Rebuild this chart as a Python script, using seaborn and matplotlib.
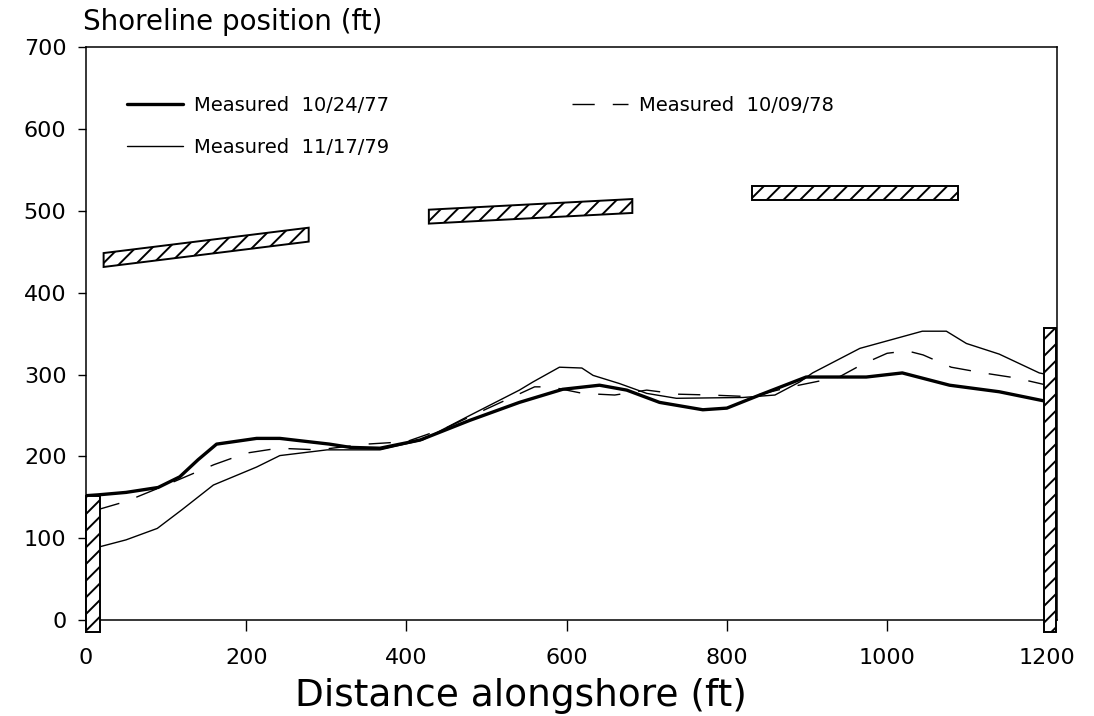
import numpy as np
import pandas as pd
import matplotlib
matplotlib.use("Agg")
import matplotlib.pyplot as plt
from matplotlib.patches import Polygon, Rectangle
import seaborn as sns

# Shoreline surveys (distance alongshore ft, shoreline position ft)
x_77 = [0, 15, 50, 90, 117, 140, 163, 213, 242, 304, 330, 367, 417, 479, 541, 595,
        641, 675, 716, 770, 800, 841, 899, 919, 974, 1019, 1078, 1140, 1200]
y_77 = [152, 153, 156, 162, 175, 196, 215, 222, 222, 215, 211, 210, 220, 244, 266, 282,
        287, 281, 266, 257, 259, 275, 297, 297, 297, 302, 287, 279, 267]

x_78 = [15, 50, 100, 160, 200, 240, 290, 350, 400, 450, 500, 560, 580, 620, 660, 700,
        740, 780, 830, 880, 940, 970, 1000, 1025, 1045, 1080, 1120, 1160, 1200]
y_78 = [135, 145, 165, 190, 204, 210, 208, 215, 218, 235, 258, 285, 285, 277, 275, 281,
        276, 275, 273, 285, 297, 313, 326, 329, 324, 309, 302, 296, 287]

x_79 = [15, 50, 89, 120, 159, 213, 242, 301, 367, 420, 479, 541, 558, 591, 619, 633,
        666, 700, 737, 820, 860, 891, 907, 966, 1044, 1074, 1099, 1140, 1190, 1200]
y_79 = [89, 98, 112, 135, 165, 187, 201, 208, 208, 220, 250, 281, 291, 309, 308, 299,
        289, 277, 271, 272, 275, 291, 302, 332, 353, 353, 338, 325, 302, 300]

labels = ["Measured  10/24/77", "Measured  10/09/78", "Measured  11/17/79"]

# Offshore breakwaters: start/end alongshore, centreline position at each end
bw_x0 = [22, 428, 832]
bw_x1 = [278, 682, 1088]
bw_y0 = [440, 493, 522]
bw_y1 = [471, 506, 522]
bw_thick = 17

# Groins at each end (x range, top)
groin_x = [(0, 17), (1196, 1211)]
groin_top = [152, 357]
groin_bottom = -15

sns.set_style("ticks")
plt.rcParams["font.family"] = ["DejaVu Sans"]
plt.rcParams["hatch.linewidth"] = 1.4
plt.rcParams["text.color"] = "black"
plt.rcParams["axes.labelcolor"] = "black"

fig = plt.figure(figsize=(10.94, 7.16), dpi=100)
ax = fig.add_axes([0.0786, 0.134, 0.8875, 0.800])

sns.lineplot(x=x_77, y=y_77, sort=False, color="black", lw=2.4, ax=ax, label=labels[0])
sns.lineplot(x=x_79, y=y_79, sort=False, color="black", lw=1.0, ax=ax, label=labels[2])
sns.lineplot(x=x_78, y=y_78, sort=False, color="black", lw=1.0, ax=ax, label=labels[1])
ax.lines[-1].set_linestyle((0, (16, 13)))

for x0, x1, y0, y1 in zip(bw_x0, bw_x1, bw_y0, bw_y1):
    h = bw_thick / 2
    pts = [(x0, y0 - h), (x1, y1 - h), (x1, y1 + h), (x0, y0 + h)]
    ax.add_patch(Polygon(pts, closed=True, facecolor="white", edgecolor="black",
                         hatch="//", lw=1.4, zorder=3))

for (gx0, gx1), top in zip(groin_x, groin_top):
    ax.add_patch(Rectangle((gx0, groin_bottom), gx1 - gx0, top - groin_bottom,
                           facecolor="white", edgecolor="black", hatch="//",
                           lw=1.4, zorder=3, clip_on=False))

ax.set_xlim(0, 1212)
ax.set_ylim(0, 700)
ax.set_xticks(range(0, 1201, 200))
ax.set_yticks(range(0, 701, 100))
ax.tick_params(axis="x", direction="out", length=8, width=1, pad=12,
               labelsize=16, colors="black")
ax.tick_params(axis="y", direction="out", length=6, width=1, pad=8,
               labelsize=16, colors="black")
for s in ax.spines.values():
    s.set_visible(True)
    s.set_linewidth(1.1)
    s.set_color("black")

ax.set_xlabel("Distance alongshore (ft)", fontsize=27)
ax.xaxis.set_label_coords(0.448, -0.102)
ax.set_ylabel("")
ax.text(-0.003, 1.02, "Shoreline position (ft)", transform=ax.transAxes,
        fontsize=20, ha="left", va="bottom")

handles, labs = ax.get_legend_handles_labels()
order = [labs.index(labels[0]), labs.index(labels[2]), labs.index(labels[1])]
ax.legend([handles[i] for i in order], [labs[i] for i in order], ncol=2,
          loc="upper left", bbox_to_anchor=(0.042, 0.915), frameon=False,
          fontsize=14, handlelength=2.9, handletextpad=0.55, columnspacing=9.4,
          labelspacing=1.2, borderpad=0, borderaxespad=0)

fig.savefig("out.png", dpi=100)
